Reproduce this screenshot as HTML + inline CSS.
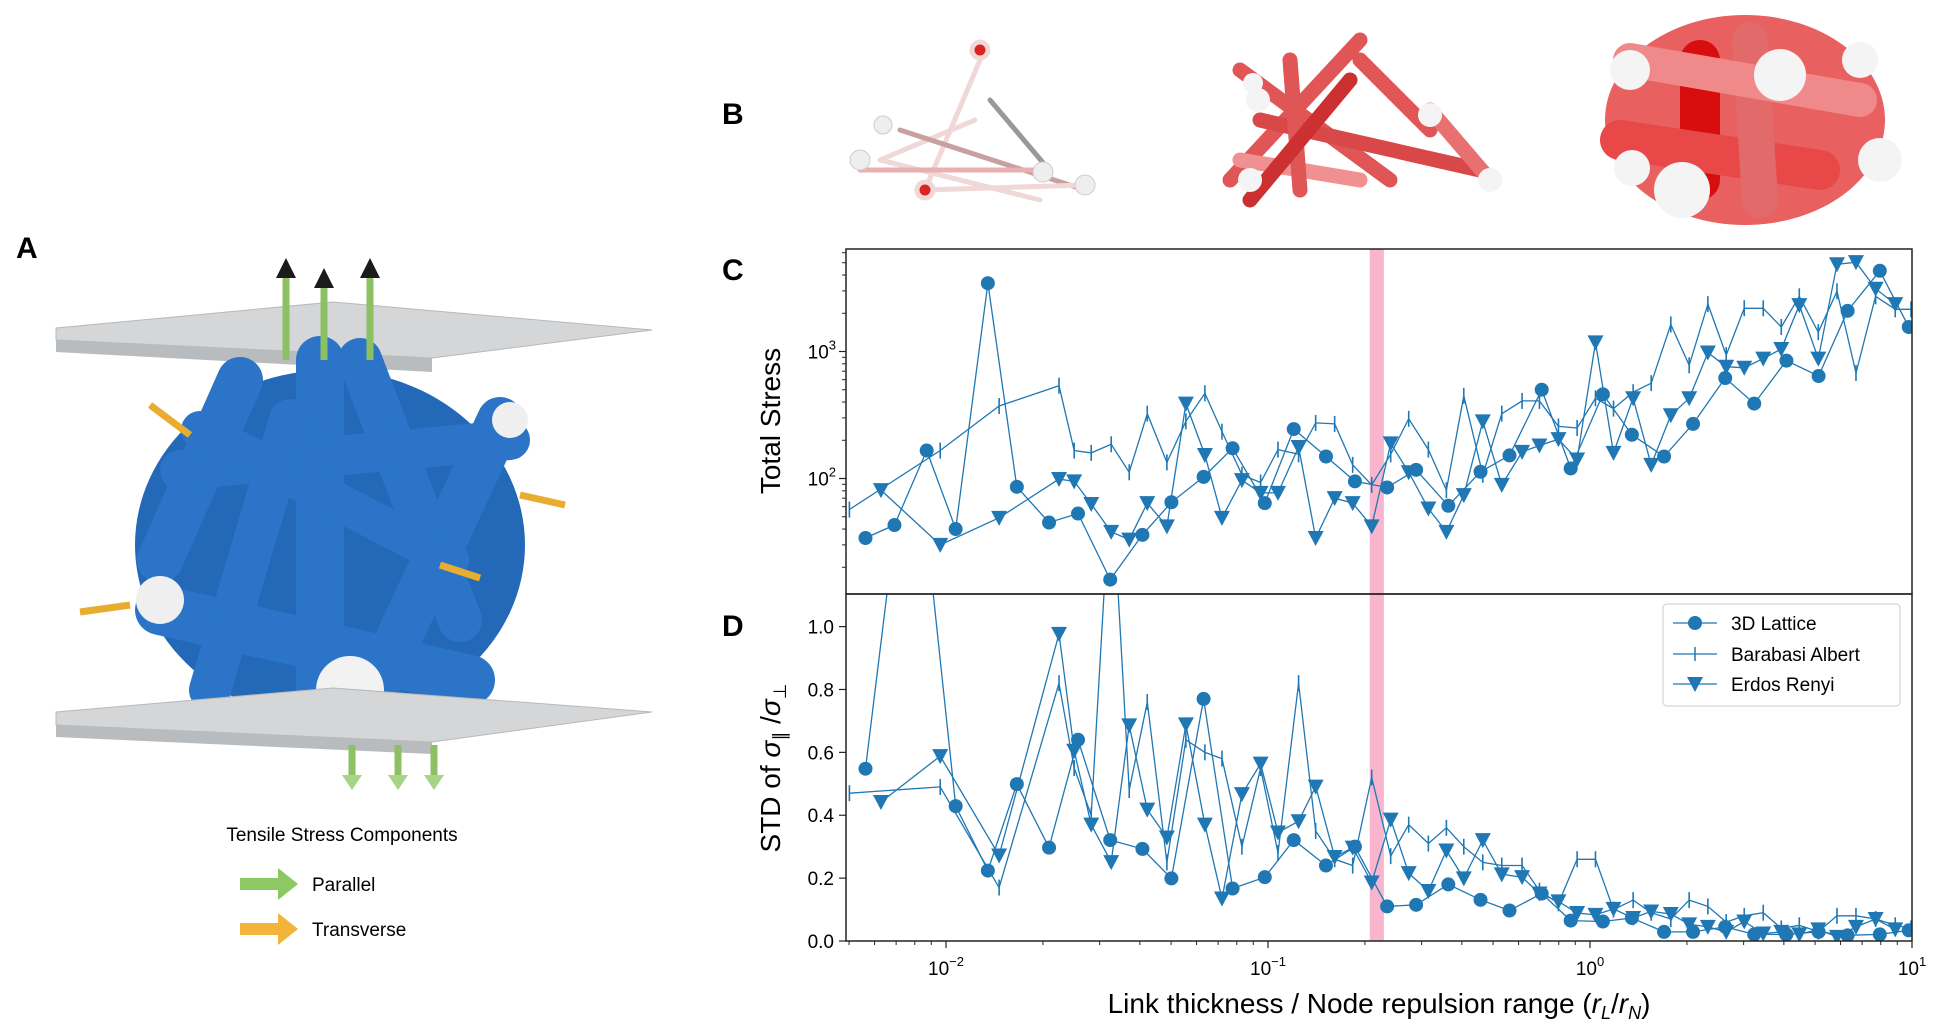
<!DOCTYPE html>
<html><head><meta charset="utf-8"><style>
html,body{margin:0;padding:0;background:#fff}
svg{display:block;font-family:"Liberation Sans","DejaVu Sans",sans-serif}
</style></head><body>
<svg id="fig" width="1934" height="1030" viewBox="0 0 1934 1030">
<defs>
<clipPath id="clipC"><rect x="846" y="249" width="1066" height="345"/></clipPath>
<clipPath id="clipD"><rect x="846" y="594" width="1066" height="347"/></clipPath>
<linearGradient id="tube" x1="0" x2="1"><stop offset="0" stop-color="#1c5fae"/><stop offset="0.5" stop-color="#3f8ee0"/><stop offset="1" stop-color="#1a5aa5"/></linearGradient>
</defs>
<!-- panel labels -->
<text x="16" y="258" font-size="30" font-weight="bold">A</text>
<text x="722" y="124" font-size="30" font-weight="bold">B</text>
<text x="722" y="280" font-size="30" font-weight="bold">C</text>
<text x="722" y="636" font-size="30" font-weight="bold">D</text>

<!-- Panel A illustration -->
<g>
  <polygon points="56,328 333,302 652,330 432,358 56,340" fill="#d4d6d8" stroke="#b8b8b8"/>
  <polygon points="56,340 432,358 432,372 56,352" fill="#b9bcbf"/>
  <g stroke="#2b74c8" stroke-linecap="round" fill="none">
    <ellipse cx="330" cy="545" rx="195" ry="175" fill="#2468b8" stroke="none"/>
    <line x1="240" y1="380" x2="160" y2="560" stroke-width="46"/>
    <line x1="320" y1="360" x2="320" y2="690" stroke-width="48"/>
    <line x1="360" y1="360" x2="460" y2="620" stroke-width="44"/>
    <line x1="500" y1="420" x2="370" y2="700" stroke-width="46"/>
    <line x1="160" y1="610" x2="470" y2="680" stroke-width="50"/>
    <line x1="180" y1="470" x2="510" y2="440" stroke-width="40"/>
    <line x1="200" y1="430" x2="450" y2="560" stroke-width="38"/>
    <line x1="290" y1="420" x2="210" y2="690" stroke-width="42"/>
  </g>
  <circle cx="350" cy="690" r="34" fill="#f2f2f2"/>
  <circle cx="160" cy="600" r="24" fill="#efefef"/>
  <circle cx="510" cy="420" r="18" fill="#efefef"/>
  <polygon points="56,712 333,688 652,712 432,742 56,725" fill="#d4d6d8" stroke="#b8b8b8"/>
  <polygon points="56,725 432,742 432,754 56,737" fill="#b9bcbf"/>
  <g stroke="#8cc063" stroke-width="7">
    <line x1="286" y1="360" x2="286" y2="275"/><line x1="324" y1="360" x2="324" y2="285"/><line x1="370" y1="360" x2="370" y2="275"/>
    <line x1="352" y1="745" x2="352" y2="780"/><line x1="398" y1="745" x2="398" y2="780"/><line x1="434" y1="745" x2="434" y2="780"/>
  </g>
  <g fill="#1b1b1b"><polygon points="276,278 286,258 296,278"/><polygon points="314,288 324,268 334,288"/><polygon points="360,278 370,258 380,278"/></g>
  <g fill="#a8d585"><polygon points="342,775 352,790 362,775"/><polygon points="388,775 398,790 408,775"/><polygon points="424,775 434,790 444,775"/></g>
  <g stroke="#e8ad2e" stroke-width="7">
    <line x1="190" y1="435" x2="150" y2="405"/><line x1="520" y1="495" x2="565" y2="505"/>
    <line x1="440" y1="565" x2="480" y2="578"/><line x1="130" y1="605" x2="80" y2="612"/>
  </g>
  <text x="342" y="841" font-size="19" text-anchor="middle">Tensile Stress Components</text>
  <polygon points="240,878 278,878 278,868 298,884 278,900 278,890 240,890" fill="#8cc863"/>
  <text x="312" y="891" font-size="19">Parallel</text>
  <polygon points="240,923 278,923 278,913 298,929 278,945 278,935 240,935" fill="#f2b43a"/>
  <text x="312" y="936" font-size="19">Transverse</text>
</g>

<!-- Panel B networks -->
<g>
  <g stroke="#f0d8d8" stroke-width="5" stroke-linecap="round">
    <line x1="880" y1="160" x2="1040" y2="200"/><line x1="880" y1="160" x2="975" y2="120"/><line x1="980" y1="60" x2="925" y2="190"/>
    <line x1="900" y1="130" x2="1085" y2="190" stroke="#c8a0a0"/><line x1="990" y1="100" x2="1045" y2="165" stroke="#999"/>
    <line x1="925" y1="190" x2="1085" y2="185"/><line x1="860" y1="170" x2="1040" y2="170" stroke="#e8b0b0"/>
    <circle cx="980" cy="50" r="8" fill="#d22"/><circle cx="925" cy="190" r="8" fill="#d22"/>
    <circle cx="860" cy="160" r="10" fill="#eee" stroke="#ccc" stroke-width="1"/><circle cx="1043" cy="172" r="10" fill="#eee" stroke="#ccc" stroke-width="1"/>
    <circle cx="1085" cy="185" r="10" fill="#eee" stroke="#ccc" stroke-width="1"/><circle cx="883" cy="125" r="9" fill="#eee" stroke="#ccc" stroke-width="1"/>
  </g>
  <g stroke="#e05555" stroke-width="15" stroke-linecap="round">
    <line x1="1240" y1="70" x2="1390" y2="180"/><line x1="1230" y1="180" x2="1360" y2="40"/><line x1="1260" y1="120" x2="1480" y2="170" stroke="#d84848"/>
    <line x1="1360" y1="60" x2="1430" y2="130"/><line x1="1430" y1="110" x2="1490" y2="180" stroke="#e87070"/><line x1="1240" y1="160" x2="1360" y2="180" stroke="#f09090"/>
    <line x1="1290" y1="60" x2="1300" y2="190"/><line x1="1350" y1="80" x2="1250" y2="200" stroke="#cc3030"/>
    <circle cx="1258" cy="100" r="12" fill="#f4f4f4" stroke="none"/><circle cx="1490" cy="180" r="12" fill="#f4f4f4" stroke="none"/>
    <circle cx="1250" cy="180" r="12" fill="#f4f4f4" stroke="none"/><circle cx="1430" cy="115" r="12" fill="#f4f4f4" stroke="none"/><circle cx="1253" cy="83" r="10" fill="#f4f4f4" stroke="none"/>
  </g>
  <g stroke-linecap="round">
    <ellipse cx="1745" cy="120" rx="140" ry="105" fill="#e86060"/>
    <line x1="1700" y1="60" x2="1700" y2="180" stroke="#d80e0e" stroke-width="40"/>
    <line x1="1620" y1="140" x2="1820" y2="170" stroke="#e84848" stroke-width="40"/>
    <line x1="1750" y1="40" x2="1760" y2="200" stroke="#e26a6a" stroke-width="36"/>
    <line x1="1630" y1="60" x2="1860" y2="100" stroke="#f08a8a" stroke-width="34"/>
    <circle cx="1682" cy="190" r="28" fill="#f4f4f4"/><circle cx="1780" cy="75" r="26" fill="#f4f4f4"/>
    <circle cx="1630" cy="70" r="20" fill="#f4f4f4"/><circle cx="1880" cy="160" r="22" fill="#f4f4f4"/>
    <circle cx="1632" cy="168" r="18" fill="#f4f4f4"/><circle cx="1860" cy="60" r="18" fill="#f4f4f4"/>
  </g>
</g>

<!-- pink band -->
<rect id="band" fill="#f7a8c4" opacity="0.85"/>
<g id="plotC" clip-path="url(#clipC)"></g>
<g id="plotD" clip-path="url(#clipD)"></g>
<g id="axes"></g>
<rect x="846" y="249" width="1066" height="345" fill="none" stroke="#222" stroke-width="1.5"/>
<rect x="846" y="594" width="1066" height="347" fill="none" stroke="#222" stroke-width="1.5"/>
<text transform="translate(780,421) rotate(-90)" font-size="28" text-anchor="middle">Total Stress</text>
<text transform="translate(780,768) rotate(-90)" font-size="28" text-anchor="middle">STD of <tspan font-style="italic">σ</tspan><tspan font-size="18" dy="6">∥</tspan><tspan dy="-6"> /</tspan><tspan font-style="italic">σ</tspan><tspan font-size="18" dy="6">⊥</tspan></text>
<text x="1379" y="1013" font-size="28" text-anchor="middle">Link thickness / Node repulsion range (<tspan font-style="italic">r</tspan><tspan font-size="18" dy="6" font-style="italic">L</tspan><tspan dy="-6">/</tspan><tspan font-style="italic">r</tspan><tspan font-size="18" dy="6" font-style="italic">N</tspan><tspan dy="-6">)</tspan></text>

<g>
  <rect x="1663" y="604" width="237" height="102" rx="4" fill="#fff" stroke="#ccc"/>
  <g><line x1="1673" y1="623" x2="1717" y2="623" stroke="#1f77b4" stroke-width="1.3"/><circle cx="1695" cy="623" r="7" fill="#1f77b4"/><text x="1731" y="630" font-size="19">3D Lattice</text></g>
  <g><line x1="1673" y1="654" x2="1717" y2="654" stroke="#1f77b4" stroke-width="1.3"/><line x1="1695" y1="647" x2="1695" y2="661" stroke="#1f77b4" stroke-width="1.5"/><text x="1731" y="661" font-size="19">Barabasi Albert</text></g>
  <g><line x1="1673" y1="684" x2="1717" y2="684" stroke="#1f77b4" stroke-width="1.3"/><polygon points="1687,677 1703,677 1695,692" fill="#1f77b4"/><text x="1731" y="691" font-size="19">Erdos Renyi</text></g>
</g>
</svg>
<script>
// x values are log10(r_L/r_N)
const latticeX=[-2.25,-2.16,-2.06,-1.97,-1.87,-1.78,-1.68,-1.59,-1.49,-1.39,-1.30,-1.20,-1.11,-1.01,-0.92,-0.82,-0.73,-0.63,-0.54,-0.44,-0.34,-0.25,-0.15,-0.06,0.04,0.13,0.23,0.32,0.42,0.51,0.61,0.71,0.80,0.90,0.99];
const latticeStress=[34,43,166,40,3450,86,45,53,16,36,65,103,173,64,245,149,95,85,117,61,113,152,500,120,460,221,149,269,618,389,847,641,2090,4320,1560];
const latticeStd=[0.548,1.3,1.3,0.429,0.224,0.499,0.297,0.640,0.321,0.293,0.199,0.770,0.167,0.203,0.321,0.240,0.300,0.110,0.115,0.180,0.131,0.097,0.151,0.065,0.062,0.073,0.029,0.029,0.045,0.021,0.021,0.029,0.018,0.021,0.034];
const erdosX=[-2.202,-2.018,-1.835,-1.649,-1.602,-1.549,-1.487,-1.431,-1.375,-1.314,-1.255,-1.196,-1.143,-1.081,-1.023,-0.969,-0.905,-0.852,-0.793,-0.737,-0.678,-0.619,-0.563,-0.502,-0.446,-0.392,-0.333,-0.274,-0.211,-0.157,-0.098,-0.040,0.017,0.073,0.134,0.190,0.251,0.308,0.366,0.423,0.479,0.538,0.594,0.650,0.709,0.767,0.826,0.887,0.948];
const erdosStress=[81,30,49,99,95,63,38,33,64,42,389,153,49,97,77,77,177,34,70,64,42,189,112,58,38,74,282,89,162,182,204,141,1180,159,428,128,315,428,981,759,744,879,1047,2320,879,4860,5050,3120,2360];
const erdosStd=[0.442,0.588,0.272,0.977,0.605,0.370,0.251,0.686,0.418,0.329,0.689,0.370,0.135,0.467,0.564,0.345,0.381,0.491,0.267,0.297,0.186,0.386,0.216,0.159,0.288,0.199,0.321,0.212,0.203,0.151,0.126,0.089,0.083,0.102,0.073,0.094,0.086,0.053,0.045,0.029,0.062,0.024,0.029,0.021,0.037,0.013,0.045,0.070,0.037];
const baX=[-2.30,-2.018,-1.835,-1.649,-1.602,-1.549,-1.487,-1.431,-1.375,-1.314,-1.255,-1.196,-1.143,-1.081,-1.023,-0.969,-0.905,-0.852,-0.793,-0.737,-0.678,-0.619,-0.563,-0.502,-0.446,-0.392,-0.333,-0.274,-0.211,-0.157,-0.098,-0.040,0.017,0.073,0.134,0.190,0.251,0.308,0.366,0.423,0.479,0.538,0.594,0.650,0.709,0.767,0.826,0.887,0.948,0.997];
const baStress=[57,166,372,538,166,159,186,112,324,134,282,469,234,107,93,169,155,274,269,128,89,155,295,169,81,448,107,324,408,408,257,250,428,355,478,563,1633,779,2360,937,2190,2190,1560,2720,1420,2980,677,2720,2150,2150];
const baStd=[0.47,0.49,0.17,0.82,0.55,0.40,1.5,0.48,0.76,0.25,0.64,0.60,0.58,0.30,0.55,0.28,0.82,0.35,0.26,0.24,0.52,0.27,0.37,0.31,0.36,0.30,0.25,0.24,0.24,0.16,0.12,0.26,0.26,0.10,0.13,0.09,0.07,0.13,0.11,0.06,0.08,0.09,0.04,0.05,0.03,0.08,0.08,0.07,0.05,0.04];
const bandRange=[0.207,0.229];
const xTickExps=[-2,-1,0,1];
const cTickExps=[2,3];
const dTicks=[0.0,0.2,0.4,0.6,0.8,1.0];

const NS='http://www.w3.org/2000/svg';
const X=l=>1912-(1-l)*322;
const YC=v=>351.5-(Math.log10(v)-3)*127;
const YD=v=>941-v*314.4;
const C='#1f77b4';
function mk(tag,attrs,parent){const e=document.createElementNS(NS,tag);for(const k in attrs)e.setAttribute(k,attrs[k]);parent.appendChild(e);return e;}
const pc=document.getElementById('plotC'),pd=document.getElementById('plotD'),ax=document.getElementById('axes');
const band=document.getElementById('band');
band.setAttribute('x',X(Math.log10(bandRange[0])));band.setAttribute('y',249);
band.setAttribute('width',X(Math.log10(bandRange[1]))-X(Math.log10(bandRange[0])));band.setAttribute('height',692);

function series(xs,ys,Y,parent,kind,name){
  const pts=xs.map((x,i)=>X(x).toFixed(1)+','+Y(ys[i]).toFixed(1)).join(' ');
  const pl=mk('polyline',{points:pts,fill:'none',stroke:C,'stroke-width':1.3},parent);
  
  
  xs.forEach((x,i)=>{const px=X(x),py=Y(ys[i]);let m;
    if(kind==='circle')m=mk('circle',{cx:px,cy:py,r:7,fill:C},parent);
    else if(kind==='tri')m=mk('polygon',{points:`${px-8},${py-7} ${px+8},${py-7} ${px},${py+8}`,fill:C},parent);
    else m=mk('line',{x1:px,y1:py-8,x2:px,y2:py+8,stroke:C,'stroke-width':1.6},parent);
    
    
  });
}
series(baX,baStress,YC,pc,'bar','barabasi-stress');
series(erdosX,erdosStress,YC,pc,'tri','erdos-stress');
series(latticeX,latticeStress,YC,pc,'circle','lattice-stress');
series(baX,baStd,YD,pd,'bar','barabasi-std');
series(erdosX,erdosStd,YD,pd,'tri','erdos-std');
series(latticeX,latticeStd,YD,pd,'circle','lattice-std');

// x ticks
xTickExps.forEach(e=>{const px=X(e);
  mk('line',{x1:px,y1:941,x2:px,y2:948,stroke:'#222','stroke-width':1.2},ax);
  const t=mk('text',{x:px,y:975,'font-size':19,'text-anchor':'middle'},ax);
  
  
  t.innerHTML='10<tspan font-size="13" dy="-9">'+(e<0?'−'+(-e):e)+'</tspan>';
  if(e<1)for(let k=2;k<10;k++){const mx=X(e+Math.log10(k));mk('line',{x1:mx,y1:941,x2:mx,y2:945,stroke:'#222','stroke-width':1},ax);}
});
for(let k=5;k<10;k++){const mx=X(-3+Math.log10(k));if(mx>=846)mk('line',{x1:mx,y1:941,x2:mx,y2:945,stroke:'#222','stroke-width':1},ax);}
// C y ticks
cTickExps.forEach(e=>{const py=YC(Math.pow(10,e));
  mk('line',{x1:839,y1:py,x2:846,y2:py,stroke:'#222','stroke-width':1.2},ax);
  const t=mk('text',{x:836,y:py+7,'font-size':19,'text-anchor':'end'},ax);
  
  
  t.innerHTML='10<tspan font-size="13" dy="-9">'+e+'</tspan>';
});
[1,2,3].forEach(e=>{for(let k=2;k<10;k++){const py=YC(k*Math.pow(10,e));if(py>249&&py<594)mk('line',{x1:842,y1:py,x2:846,y2:py,stroke:'#222','stroke-width':1},ax);}});
// D y ticks
dTicks.forEach(v=>{const py=YD(v);
  mk('line',{x1:839,y1:py,x2:846,y2:py,stroke:'#222','stroke-width':1.2},ax);
  const t=mk('text',{x:834,y:py+7,'font-size':19,'text-anchor':'end'},ax);
  
  
  t.textContent=v.toFixed(1);
});
</script>
</body></html>
